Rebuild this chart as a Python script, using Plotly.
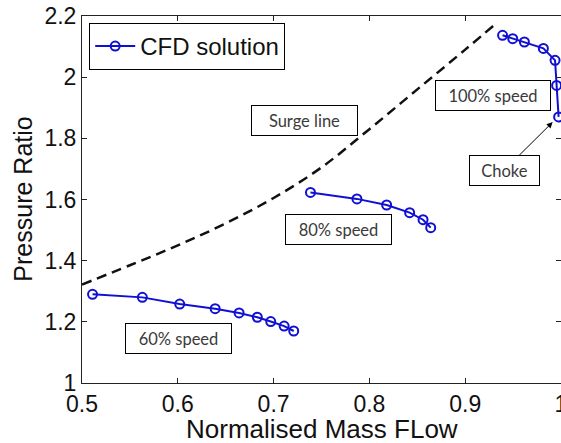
import plotly.graph_objects as go

# Compressor map: CFD speed lines and surge line
flow_60 = [0.511, 0.563, 0.602, 0.639, 0.664, 0.683, 0.697, 0.711, 0.721]
pr_60 = [1.290, 1.280, 1.258, 1.243, 1.229, 1.215, 1.201, 1.186, 1.170]

flow_80 = [0.7385, 0.787, 0.818, 0.842, 0.856, 0.864]
pr_80 = [1.623, 1.602, 1.582, 1.557, 1.534, 1.508]

flow_100 = [0.939, 0.9496, 0.9618, 0.9816, 0.9938, 0.9954, 0.9975]
pr_100 = [2.137, 2.126, 2.115, 2.094, 2.055, 1.973, 1.870]

surge_flow = [0.50, 0.55, 0.60, 0.65, 0.70, 0.75, 0.80, 0.85, 0.90, 0.932]
surge_pr = [1.322, 1.385, 1.450, 1.522, 1.605, 1.705, 1.830, 1.960, 2.090, 2.175]

x_ticks = [0.5, 0.6, 0.7, 0.8, 0.9, 1.0]
x_tick_text = ["0.5", "0.6", "0.7", "0.8", "0.9", "1"]
y_ticks = [1.0, 1.2, 1.4, 1.6, 1.8, 2.0, 2.2]
y_tick_text = ["1", "1.2", "1.4", "1.6", "1.8", "2", "2.2"]

BLUE = "#1010d4"
LABEL_FONT = dict(family="Lato, Open Sans, sans-serif", size=16.5, color="#3a3a3a")
AXIS_FONT = "Liberation Sans, Arial, sans-serif"

fig = go.Figure()

speed_lines = [(flow_60, pr_60, True), (flow_80, pr_80, False), (flow_100, pr_100, False)]
for fx, fy, show in speed_lines:
    fig.add_trace(go.Scatter(
        x=fx, y=fy, mode="lines+markers", name="CFD solution",
        showlegend=show, legendgroup="cfd",
        line=dict(color=BLUE, width=2),
        marker=dict(symbol="circle-open", size=9, color=BLUE, line=dict(width=2)),
    ))

fig.add_trace(go.Scatter(
    x=surge_flow, y=surge_pr, mode="lines", showlegend=False,
    line=dict(color="#111111", width=2.5, dash="10px,6px", shape="spline", smoothing=1),
))

boxes = [
    ("Surge line", 0.7326, 1.859, 103),
    ("80% speed", 0.7673, 1.5026, 103),
    ("60% speed", 0.601, 1.147, 103),
    ("100% speed", 0.929, 1.941, 112),
]
for text, bx, by, w in boxes:
    fig.add_annotation(
        x=bx, y=by, text=text, showarrow=False, font=LABEL_FONT,
        bgcolor="white", bordercolor="black", borderwidth=1, borderpad=1,
        width=w, height=27,
    )

fig.add_annotation(
    x=0.9913, y=1.853, ax=0.9406, ay=1.6956, axref="x", ayref="y",
    text="Choke", showarrow=True, arrowhead=2, arrowsize=1.2, arrowwidth=1,
    arrowcolor="black", font=LABEL_FONT,
    bgcolor="white", bordercolor="black", borderwidth=1, borderpad=1,
    width=67, height=27,
)

# axis titles placed as paper-anchored text
fig.add_annotation(
    x=0.5, y=-0.124, xref="paper", yref="paper", xanchor="center", yanchor="middle",
    text="Normalised Mass FLow", showarrow=False,
    font=dict(family=AXIS_FONT, size=26, color="#111111"),
)
fig.add_annotation(
    x=-0.125, y=0.5, xref="paper", yref="paper", xanchor="center", yanchor="middle",
    text="Pressure Ratio", showarrow=False, textangle=-90,
    font=dict(family=AXIS_FONT, size=25, color="#111111"),
)

axis_common = dict(
    showgrid=False, zeroline=False, showline=True, linecolor="#222222", linewidth=1,
    mirror="ticks", ticks="inside", ticklen=5, tickcolor="#222222",
    tickfont=dict(family=AXIS_FONT, size=23, color="#111111"),
    automargin=False,
)

fig.update_xaxes(
    range=[0.5, 1.0], tickvals=x_ticks, ticktext=x_tick_text,
    ticklabeloverflow="allow",
    **axis_common,
)
fig.update_yaxes(
    range=[1.0, 2.2], tickvals=y_ticks, ticktext=y_tick_text,
    **axis_common,
)

fig.update_layout(
    width=561, height=443,
    margin=dict(l=82, r=0, t=16, b=60),
    paper_bgcolor="white", plot_bgcolor="white",
    legend=dict(
        x=0.015, y=0.981, xanchor="left", yanchor="top",
        bgcolor="white", bordercolor="black", borderwidth=1,
        font=dict(family=AXIS_FONT, size=24, color="#111111"),
        tracegroupgap=0, itemwidth=40,
    ),
)

fig.write_html("out.html")
